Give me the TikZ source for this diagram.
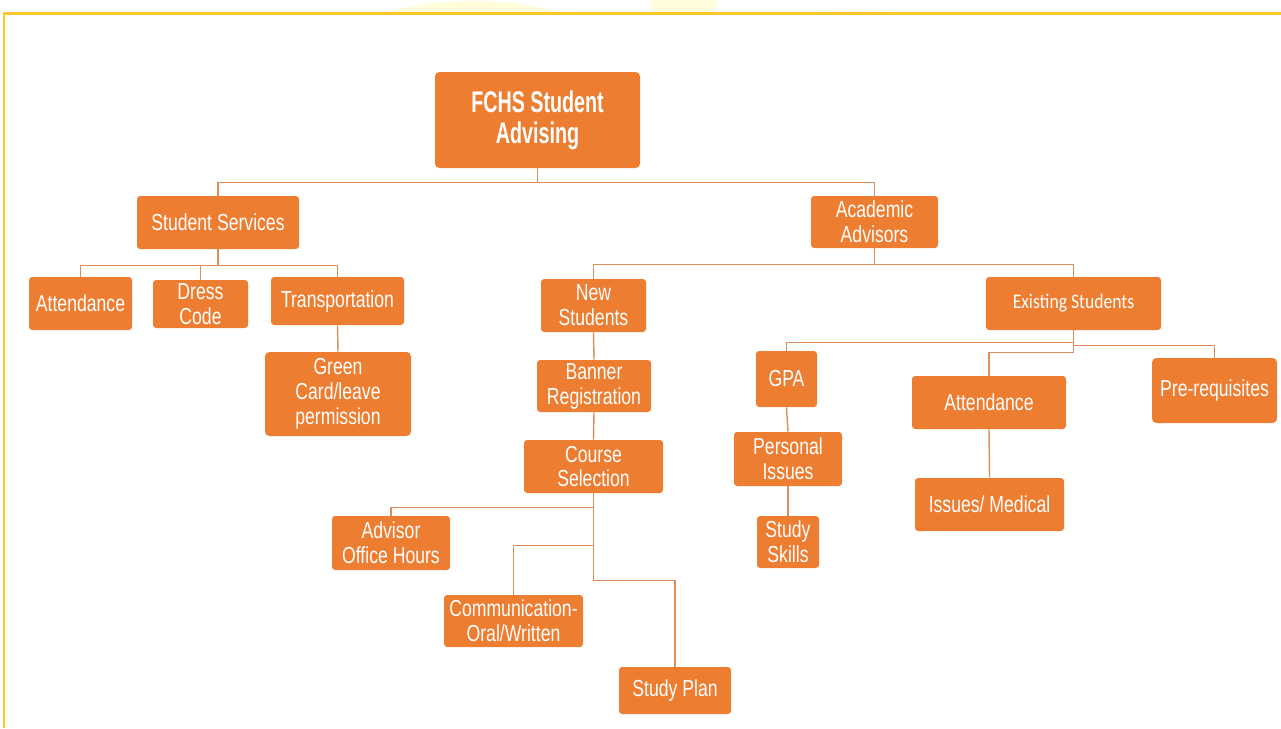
\documentclass[tikz,border=0pt]{standalone}
\usepackage{fontspec}
\setmainfont{Liberation Sans}[FakeStretch=0.76]
\newfontfamily\rootfont{Liberation Sans}[FakeStretch=0.66]
\newfontfamily\calfont{Carlito}[FakeStretch=0.85]
\definecolor{boxorange}{HTML}{ED7D31}
\definecolor{linkc}{HTML}{DE8C58}
\definecolor{frameyellow}{HTML}{FFC629}
\definecolor{blob}{HTML}{FFFDDC}
\definecolor{blobb}{HTML}{FFFEEC}
\newcommand\bx[7][]{\node[box,#1,minimum width={(#5-#3)*0.02cm},minimum height={(#6-#4)*0.02cm}] (#2) at ({(#3+#5)/2},{(#4+#6)/2}) {#7};}
\begin{document}
\begin{tikzpicture}[x=0.02cm,y=-0.02cm,
  box/.style={fill=boxorange,draw=none,rounded corners=1.8pt,text=white,align=center,inner sep=0pt,
    font=\fontsize{13.2}{14.2}\selectfont},
  rootbox/.style={font=\rootfont\bfseries\fontsize{17}{17.8}\selectfont,rounded corners=2.5pt},
  calbox/.style={font=\calfont\fontsize{11.8}{13}\selectfont},
  link/.style={draw=linkc,line width=0.8pt},
  frame/.style={draw=frameyellow,line width=1.3pt}]
\useasboundingbox (0,0) rectangle (1281,728);
% faint background shapes above the frame
\begin{scope}
\clip (0,0) rectangle (1281,12.5);
\fill[blob] (473,80) ellipse [x radius=3.42cm,y radius=1.58cm];
\fill[blob] (650,0) -- (718,0) -- (713,13) -- (655,13) -- cycle;
\fill[blobb] (853,40) ellipse [x radius=1.86cm,y radius=0.62cm];
\end{scope}
% frame
\draw[frame] (4,728) -- (4,13.5) -- (1281,13.5);
% nodes
\bx[rootbox]{root}{435}{72}{640}{168}{FCHS Student\\Advising}
\bx{ss}{137}{196}{299}{249}{Student Services}
\bx{aa}{811}{196}{938}{248}{Academic\\Advisors}
\bx{attL}{29}{277}{132}{330}{Attendance}
\bx{dc}{153}{280}{248}{328}{Dress\\Code}
\bx{tr}{271}{277}{404}{325}{Transportation}
\bx[rounded corners=2.5pt]{gc}{265}{352}{411}{436}{Green\\Card/leave\\permission}
\bx{ns}{541}{279}{646}{332}{New\\Students}
\bx[calbox]{es}{986}{277}{1161}{330}{Existing Students}
\bx{br}{537}{360}{651}{412}{Banner\\Registration}
\bx{cs}{524}{440}{663}{493}{Course\\Selection}
\bx{aoh}{332}{516}{450}{570}{Advisor\\Office Hours}
\bx{com}{444}{595}{583}{647}{Communication-\\Oral/Written}
\bx{sp}{619}{667}{731}{714}{Study Plan}
\bx{gpa}{756}{351}{817}{407}{GPA}
\bx{pi}{734}{432}{842}{486}{Personal\\Issues}
\bx{sk}{757}{516}{819}{568}{Study\\Skills}
\bx{attR}{912}{376}{1066}{429}{Attendance}
\bx{im}{915}{478}{1064}{531}{Issues/ Medical}
\bx[rounded corners=2.5pt]{pre}{1152}{358}{1277}{423}{Pre-requisites}
% connectors
\draw[link] (root.south) -- ++(0,14) -| (ss.north);
\draw[link] (root.south) -- ++(0,14) -| (aa.north);
\draw[link] (ss.south) -- ++(0,16) -| (attL.north);
\draw[link] (ss.south) -- ++(0,16) -| (dc.north);
\draw[link] (ss.south) -- ++(0,16) -| (tr.north);
\draw[link] (tr.south) -- (gc.north);
\draw[link] (aa.south) -- ++(0,16) -| (ns.north);
\draw[link] (aa.south) -- ++(0,16) -| (es.north);
\draw[link] (ns.south) -- (br.north);
\draw[link] (br.south) -- (cs.north);
\draw[link] (cs.south) -- ++(0,14) -| (aoh.north);
\draw[link] (cs.south) -- ++(0,52) -| (com.north);
\draw[link] (cs.south) -- ++(0,87) -| (sp.north);
\draw[link] (es.south) -- ++(0,12) -| (gpa.north);
\draw[link] (es.south) -- ++(0,22) -| (attR.north);
\draw[link] (es.south) -- ++(0,15) -| (pre.north);
\draw[link] (gpa.south) -- (pi.north);
\draw[link] (pi.south) -- (sk.north);
\draw[link] (attR.south) -- (im.north);
\end{tikzpicture}
\end{document}
